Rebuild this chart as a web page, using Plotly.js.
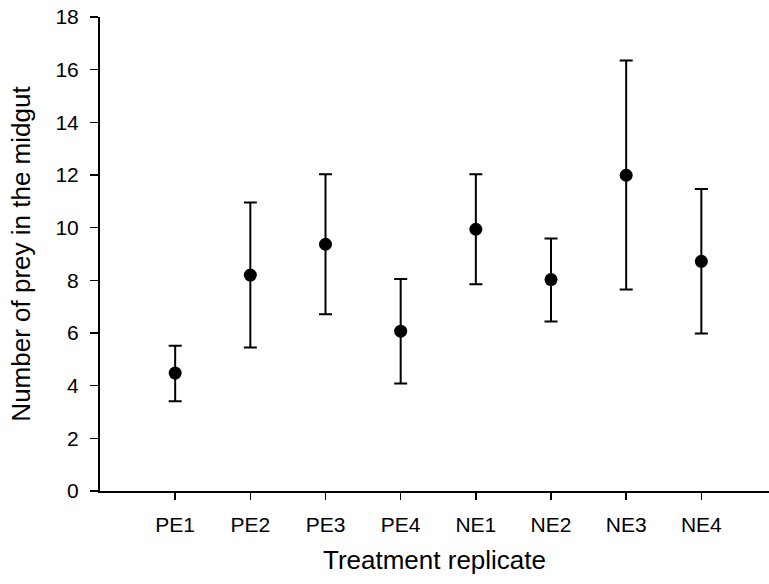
<!DOCTYPE html>
<html>
<head>
<meta charset="utf-8">
<script src="https://cdn.plot.ly/plotly-3.0.1.min.js"></script>
<style>html,body{margin:0;padding:0;background:#fff;}#chart{width:769px;height:584px;}</style>
</head>
<body>
<div id="chart"></div>
<script>
const categories = ["PE1", "PE2", "PE3", "PE4", "NE1", "NE2", "NE3", "NE4"];
const means = [4.48, 8.2, 9.37, 6.07, 9.94, 8.03, 11.99, 8.72];
const upper = [5.52, 10.96, 12.03, 8.05, 12.03, 9.59, 16.35, 11.47];
const lower = [3.41, 5.45, 6.71, 4.08, 7.85, 6.44, 7.65, 5.98];
const yTicks = [0, 2, 4, 6, 8, 10, 12, 14, 16, 18];

const plus = upper.map((u, i) => u - means[i]);
const minus = lower.map((l, i) => means[i] - l);

const trace = {
  type: "scatter",
  mode: "markers",
  x: categories,
  y: means,
  marker: {color: "#000", size: 13, symbol: "circle"},
  error_y: {
    type: "data",
    symmetric: false,
    array: plus,
    arrayminus: minus,
    color: "#000",
    thickness: 2,
    width: 6.5
  },
  showlegend: false,
  cliponaxis: false
};

const font = {family: "Liberation Sans, Arial, sans-serif", color: "#000"};

const layout = {
  width: 769,
  height: 584,
  margin: {l: 99.5, r: 0, t: 16.7, b: 93.3},
  paper_bgcolor: "#fff",
  plot_bgcolor: "#fff",
  font: font,
  xaxis: {
    type: "category",
    range: [-1, 7.9],
    showgrid: false,
    zeroline: false,
    showline: true,
    linecolor: "#000",
    linewidth: 2,
    ticks: "outside",
    ticklen: 7,
    tickwidth: 1.5,
    tickcolor: "#000",
    tickfont: {family: font.family, size: 21, color: "#000"},
    ticklabelstandoff: 7,
    title: {text: "Treatment replicate", font: {family: font.family, size: 26, color: "#000"}, standoff: 16},
    automargin: false,
    fixedrange: true
  },
  yaxis: {
    range: [0, 18],
    tickvals: yTicks,
    ticktext: yTicks.map(String),
    showgrid: false,
    zeroline: false,
    showline: true,
    linecolor: "#000",
    linewidth: 2,
    ticks: "outside",
    ticklen: 8,
    tickwidth: 1.5,
    tickcolor: "#000",
    tickfont: {family: font.family, size: 21, color: "#000"},
    ticklabelstandoff: 7,
    title: {text: "Number of prey in the midgut", font: {family: font.family, size: 26, color: "#000"}, standoff: 17},
    automargin: false,
    fixedrange: true
  }
};

Plotly.newPlot("chart", [trace], layout, {displayModeBar: false, staticPlot: true});
</script>
</body>
</html>
